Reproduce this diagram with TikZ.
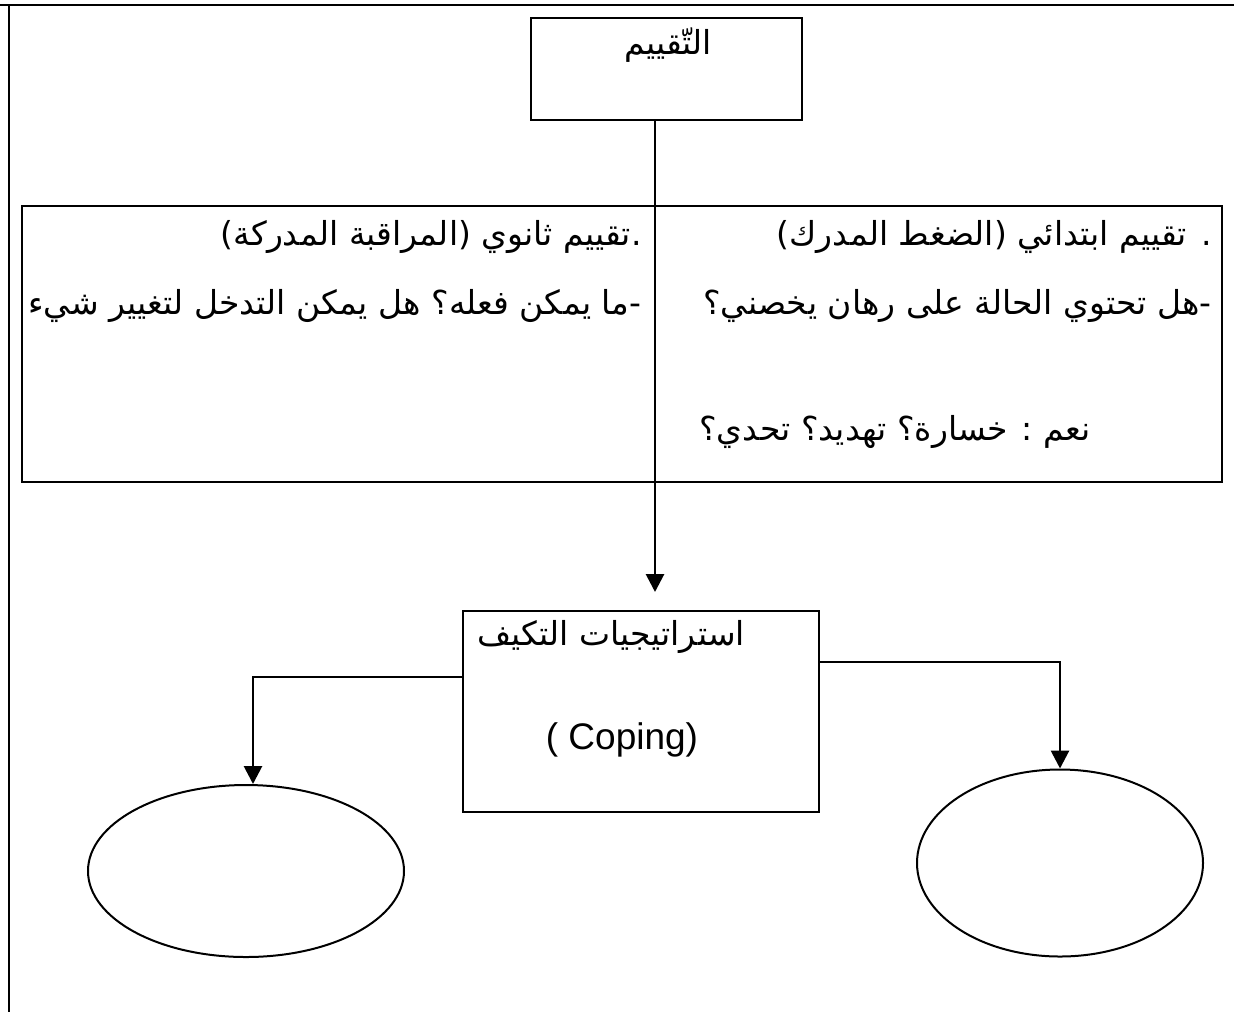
\documentclass[tikz,border=0pt]{standalone}
\usepackage{fontspec}
\setmainfont{Liberation Sans}
\newfontfamily\arabicfont[Script=Arabic]{DejaVu Sans}
\TeXXeTstate=1
\usetikzlibrary{arrows.meta,shapes.geometric}
\begin{document}
\begin{tikzpicture}[x=0.5pt,y=-0.5pt,
  box/.style={draw,line width=1pt,rectangle,inner sep=0pt},
  oval/.style={draw,ellipse,line width=1pt,inner sep=0pt},
  ar/.style={font=\arabicfont\fontsize{16.5}{20}\selectfont,inner sep=0pt},
  lat/.style={font=\fontsize{18.5}{22}\selectfont,inner sep=0pt},
  conn/.style={line width=1.1pt},
  arr/.style={line width=1.4pt,-{Triangle[width=9pt,length=9pt]}}]
\useasboundingbox (0,0) rectangle (1234,1012);
% page edges
\coordinate (pgtl) at (0,5);
\coordinate (pgtr) at (1234,5);
\coordinate (pglt) at (9,5);
\coordinate (pglb) at (9,1012);
\draw[line width=1pt] (pgtl) -- (pgtr);
\draw[line width=1pt] (pglt) -- (pglb);
% boxes
\node[box,minimum width=135.5pt,minimum height=51pt] (top) at (666.5,69) {};
\node[box,minimum width=600pt,minimum height=138pt] (big) at (622,344) {};
\node[box,minimum width=178pt,minimum height=100.5pt] (cope) at (641,711.5) {};
\node[oval,minimum width=158pt,minimum height=86pt] (lov) at (246,871) {};
\node[oval,minimum width=143pt,minimum height=93.5pt] (rov) at (1060,863) {};
% texts
\node[ar] (ttop) at (668,45) {\beginR التّقييم\endR};
\node[ar,anchor=east] (r1) at (1212,237) {\beginR . تقييم ابتدائي (الضغط المدرك)\endR};
\node[ar,anchor=east] (r2) at (1212,306) {\beginR -هل تحتوي الحالة على رهان يخصني؟\endR};
\node[ar] (r3) at (895,432) {\beginR نعم : خسارة؟ تهديد؟ تحدي؟\endR};
\node[ar,anchor=east] (l1) at (642,237) {\beginR .تقييم ثانوي (المراقبة المدركة)\endR};
\node[ar,anchor=east] (l2) at (642,306) {\beginR -ما يمكن فعله؟ هل يمكن التدخل لتغيير شيء\endR};
\node[ar] (c1) at (611,637) {\beginR استراتيجيات التكيف\endR};
\node[lat] (c2) at (622,740) {( Coping)};
% connectors
\coordinate (dvx) at (655,0);
\coordinate (lyc) at (0,677);
\coordinate (ryc) at (0,662);
\coordinate (lax) at (253,0);
\draw[conn] (dvx |- top.south) -- (dvx |- big.north);
\draw[conn] (dvx |- big.north) -- (dvx |- big.south);
\draw[arr,shorten >=9pt] (dvx |- big.south) -- (dvx |- cope.north);
\draw[arr] (cope.west |- lyc) -| (lax |- lov.north);
\draw[arr] (cope.east |- ryc) -| (rov.north);
\end{tikzpicture}
\end{document}
